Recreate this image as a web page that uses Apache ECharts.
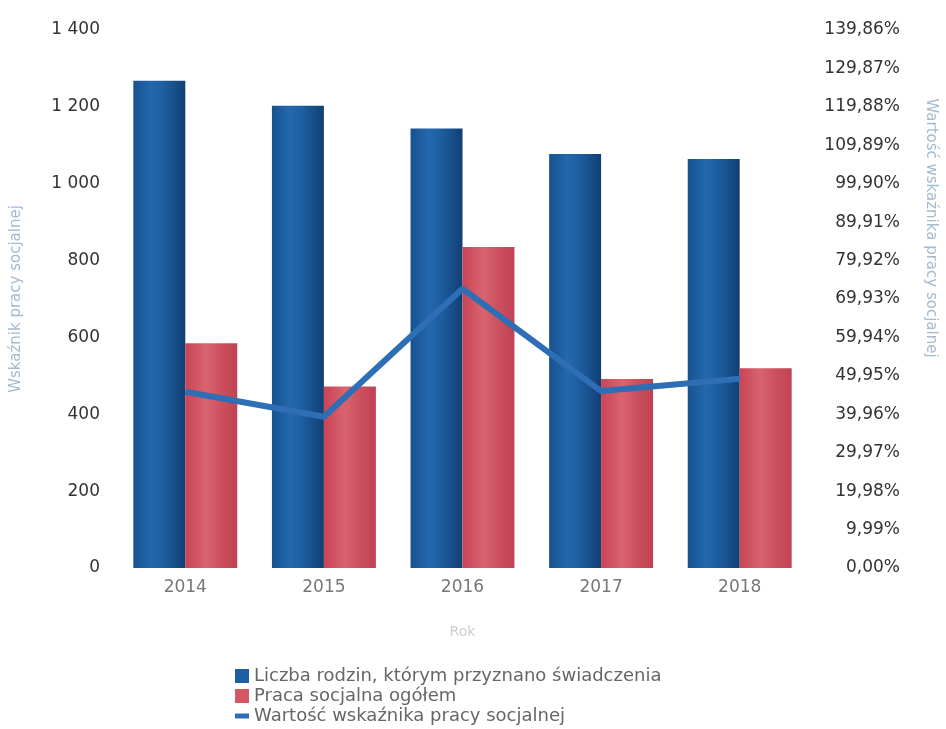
<!DOCTYPE html>
<html>
<head>
<meta charset="utf-8">
<script src="https://cdn.jsdelivr.net/npm/echarts@6/dist/echarts.min.js"></script>
<style>
html,body{margin:0;padding:0;background:#fff;}
#c{width:946px;height:729px;}
</style>
</head>
<body>
<div id="c"></div>
<script>
var years = ['2014', '2015', '2016', '2017', '2018'];
var rodziny = [1268, 1203, 1144, 1077, 1064];
var pracaSocjalna = [585, 472, 835, 492, 520];
var wskaznik = [45.8, 39.3, 72.6, 46.0, 49.2];
var leftTicks = { min: 0, max: 1400, interval: 200 };
var rightTicks = { min: 0, max: 139.86, interval: 9.99 };
var names = ['Liczba rodzin, którym przyznano świadczenia', 'Praca socjalna ogółem', 'Wartość wskaźnika pracy socjalnej'];

var font = 'DejaVu Sans';
var chart = echarts.init(document.getElementById('c'));
var blueGrad = new echarts.graphic.LinearGradient(0, 0, 1, 0, [
  {offset: 0, color: '#17528f'}, {offset: 0.35, color: '#2468ad'},
  {offset: 0.6, color: '#1c5d9f'}, {offset: 1, color: '#123f72'}]);
var redGrad = new echarts.graphic.LinearGradient(0, 0, 1, 0, [
  {offset: 0, color: '#c84456'}, {offset: 0.4, color: '#d8646f'},
  {offset: 0.7, color: '#cc4f5e'}, {offset: 1, color: '#c04354'}]);

chart.setOption({
  animation: false,
  grid: { left: 116, right: 137, top: 30, bottom: 161 },
  legend: {
    orient: 'vertical', left: 230, top: 662, height: 80, itemGap: 2,
    itemWidth: 14, itemHeight: 14,
    textStyle: { fontFamily: font, fontSize: 18, color: '#666' },
    data: [
      { name: names[0], icon: 'rect', itemStyle: { color: '#1d5fa3' } },
      { name: names[1], icon: 'rect', itemStyle: { color: '#d45766' } },
      { name: names[2], icon: 'path://M0,4 L14,4 L14,9 L0,9 Z', itemStyle: { color: '#2e6eb5' } }
    ]
  },
  xAxis: {
    type: 'category', data: years,
    name: 'Rok', nameLocation: 'middle', nameGap: 57,
    nameTextStyle: { fontFamily: font, fontSize: 14, color: '#ccc' },
    axisLine: { show: false }, axisTick: { show: false },
    axisLabel: { fontFamily: font, fontSize: 17, color: '#777', margin: 11 }
  },
  yAxis: [
    {
      type: 'value', min: leftTicks.min, max: leftTicks.max, interval: leftTicks.interval,
      name: 'Wskaźnik pracy socjalnej', nameLocation: 'middle', nameGap: 92, nameRotate: 90,
      nameTextStyle: { fontFamily: font, fontSize: 15, color: '#a3bad0' },
      axisLine: { show: false }, axisTick: { show: false }, splitLine: { show: false },
      axisLabel: { fontFamily: font, fontSize: 17, color: '#333', margin: 16,
        formatter: function (v) { return String(v).replace(/\B(?=(\d{3})+(?!\d))/g, ' '); } }
    },
    {
      type: 'value', min: rightTicks.min, max: rightTicks.max, interval: rightTicks.interval,
      position: 'right',
      axisLine: { show: false }, axisTick: { show: false }, splitLine: { show: false },
      axisLabel: { fontFamily: font, fontSize: 17, color: '#333', margin: 91, align: 'right',
        formatter: function (v) { return v.toFixed(2).replace('.', ',') + '%'; } }
    }
  ],
  graphic: [{
    type: 'text', x: 931, y: 228, rotation: -Math.PI / 2,
    style: { text: 'Wartość wskaźnika pracy socjalnej', fontFamily: font, fontSize: 15,
      fill: '#a3bad0', align: 'center', verticalAlign: 'middle' }
  }],
  series: [
    { name: names[0], type: 'bar', data: rodziny, barGap: '0%', barCategoryGap: '25%',
      itemStyle: { color: blueGrad } },
    { name: names[1], type: 'bar', data: pracaSocjalna,
      itemStyle: { color: redGrad } },
    { name: names[2], type: 'line', yAxisIndex: 1, data: wskaznik, symbol: 'none',
      lineStyle: { color: '#2e6eb5', width: 6 }, itemStyle: { color: '#2e6eb5' }, z: 5 }
  ]
});
</script>
</body>
</html>
